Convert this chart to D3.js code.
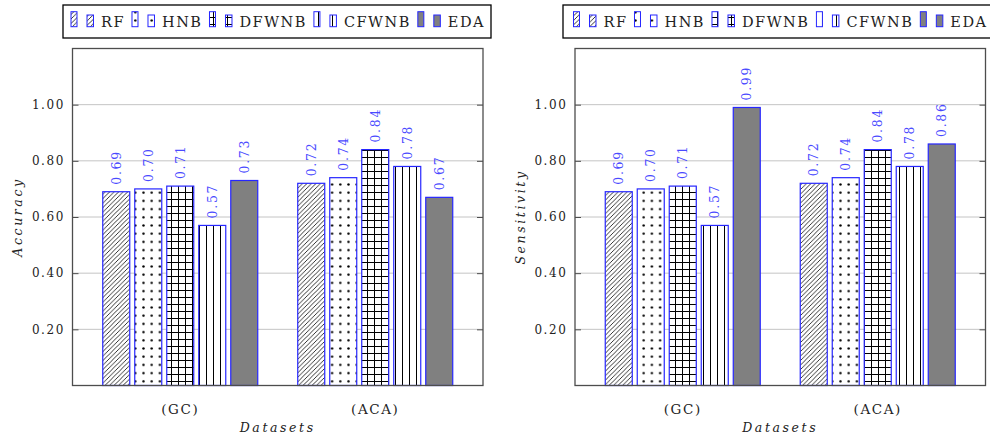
<!DOCTYPE html>
<html>
<head>
<meta charset="utf-8">
<script src="https://cdn.jsdelivr.net/npm/d3@7"></script>
<style>
  html, body { margin: 0; padding: 0; background: #fff; }
  svg { display: block; }
  text { font-family: "DejaVu Serif", serif; }
</style>
</head>
<body>
<svg id="chart" width="990" height="441"></svg>
<script>
// Datasets and methods
const categories = ["(GC)", "(ACA)"];
const methods = ["RF", "HNB", "DFWNB", "CFWNB", "EDA"];

// Accuracy per method, one value per dataset
const accuracyRF    = [0.69, 0.72];
const accuracyHNB   = [0.70, 0.74];
const accuracyDFWNB = [0.71, 0.84];
const accuracyCFWNB = [0.57, 0.78];
const accuracyEDA   = [0.73, 0.67];

// Sensitivity per method, one value per dataset
const sensitivityRF    = [0.69, 0.72];
const sensitivityHNB   = [0.70, 0.74];
const sensitivityDFWNB = [0.71, 0.84];
const sensitivityCFWNB = [0.57, 0.78];
const sensitivityEDA   = [0.99, 0.86];

const yTickValues = [0.2, 0.4, 0.6, 0.8, 1.0];
const yTickLabels = ["0.20", "0.40", "0.60", "0.80", "1.00"];

const accuracy = [accuracyRF, accuracyHNB, accuracyDFWNB, accuracyCFWNB, accuracyEDA];
const sensitivity = [sensitivityRF, sensitivityHNB, sensitivityDFWNB, sensitivityCFWNB, sensitivityEDA];

const svg = d3.select("#chart");
const defs = svg.append("defs");

// Fill patterns for each method
function makePatterns() {
  const ink = "#000";
  // north-east hatching
  let p = defs.append("pattern").attr("id", "pat-RF").attr("patternUnits", "userSpaceOnUse")
    .attr("width", 4.5).attr("height", 4.5);
  p.append("rect").attr("width", 4.5).attr("height", 4.5).attr("fill", "#fff");
  p.append("path").attr("d", "M-1,5.5 L5.5,-1 M-1,1 L1,-1 M3.5,5.5 L5.5,3.5")
    .attr("stroke", ink).attr("stroke-width", 0.8);
  // dots
  p = defs.append("pattern").attr("id", "pat-HNB").attr("patternUnits", "userSpaceOnUse")
    .attr("width", 8.2).attr("height", 8.2);
  p.append("rect").attr("width", 8.2).attr("height", 8.2).attr("fill", "#fff");
  p.append("circle").attr("cx", 4.1).attr("cy", 4.1).attr("r", 1.2).attr("fill", ink);
  // grid
  p = defs.append("pattern").attr("id", "pat-DFWNB").attr("patternUnits", "userSpaceOnUse")
    .attr("width", 7).attr("height", 7);
  p.append("rect").attr("width", 7).attr("height", 7).attr("fill", "#fff");
  p.append("path").attr("d", "M3.5,0 V7 M0,3.5 H7").attr("stroke", ink).attr("stroke-width", 1);
  // vertical lines
  p = defs.append("pattern").attr("id", "pat-CFWNB").attr("patternUnits", "userSpaceOnUse")
    .attr("width", 7).attr("height", 7);
  p.append("rect").attr("width", 7).attr("height", 7).attr("fill", "#fff");
  p.append("path").attr("d", "M3.5,0 V7").attr("stroke", ink).attr("stroke-width", 1);
}
makePatterns();

const fills = {
  RF: "url(#pat-RF)", HNB: "url(#pat-HNB)", DFWNB: "url(#pat-DFWNB)",
  CFWNB: "url(#pat-CFWNB)", EDA: "#808080"
};
const barStroke = "#2626ff";
const labelColor = "#4a4aff";

function drawPanel(offsetX, values, yTitle) {
  const left = 72.5 + offsetX, right = 483 + offsetX;
  const top = 48.5, bottom = 385.5;
  const g = svg.append("g");

  const y = d3.scaleLinear().domain([0, 1.2]).range([bottom, top]);
  const x = d3.scalePoint().domain(categories).range([left, right]).padding(0.5526);
  const inner = d3.scaleBand().domain(methods).range([-80, 80])
    .paddingInner(5 / 32).paddingOuter(5 / 64);

  // gridlines
  g.append("g").selectAll("line").data(yTickValues).join("line")
    .attr("x1", left).attr("x2", right)
    .attr("y1", d => y(d)).attr("y2", d => y(d))
    .attr("stroke", "#c4c4c4").attr("stroke-width", 1);

  // bars
  const rows = [];
  methods.forEach((m, i) => categories.forEach((c, j) => rows.push({ m, c, v: values[i][j] })));
  g.append("g").selectAll("rect").data(rows).join("rect")
    .attr("x", d => x(d.c) + inner(d.m))
    .attr("width", inner.bandwidth())
    .attr("y", d => y(d.v))
    .attr("height", d => bottom - y(d.v))
    .attr("fill", d => fills[d.m])
    .attr("stroke", barStroke).attr("stroke-width", 1.2);

  // value labels
  g.append("g").selectAll("text").data(rows).join("text")
    .attr("transform", d => `translate(${x(d.c) + inner(d.m) + inner.bandwidth() / 2},${y(d.v) - 7}) rotate(-90)`)
    .attr("dominant-baseline", "central")
    .attr("font-size", 12.5).attr("letter-spacing", 1.7)
    .attr("fill", labelColor)
    .text(d => d.v.toFixed(2));

  // frame
  g.append("rect").attr("x", left).attr("y", top)
    .attr("width", right - left).attr("height", bottom - top)
    .attr("fill", "none").attr("stroke", "#4d4d4d").attr("stroke-width", 1.3);

  // y ticks on both sides, pointing inward
  const yAxisL = d3.axisRight(y).tickValues(yTickValues).tickSize(6).tickFormat("");
  const yAxisR = d3.axisLeft(y).tickValues(yTickValues).tickSize(6).tickFormat("");
  const ga = g.append("g").attr("transform", `translate(${left},0)`).call(yAxisL);
  const gb = g.append("g").attr("transform", `translate(${right},0)`).call(yAxisR);
  [ga, gb].forEach(a => {
    a.select(".domain").remove();
    a.selectAll("line").attr("stroke", "#4d4d4d").attr("stroke-width", 1);
  });

  // y tick labels
  g.append("g").selectAll("text").data(yTickValues).join("text")
    .attr("x", left - 7.5).attr("y", d => y(d))
    .attr("dy", "0.36em").attr("text-anchor", "end")
    .attr("font-size", 12).attr("letter-spacing", 1.6)
    .attr("fill", "#222")
    .text((d, i) => yTickLabels[i]);

  // category labels
  g.append("g").selectAll("text").data(categories).join("text")
    .attr("x", d => x(d)).attr("y", 414)
    .attr("text-anchor", "middle")
    .attr("font-size", 13.5).attr("letter-spacing", 1.6)
    .attr("fill", "#222")
    .text(d => d);

  // axis titles
  g.append("text")
    .attr("x", (left + right) / 2).attr("y", 432)
    .attr("text-anchor", "middle")
    .attr("font-size", 12.5).attr("font-style", "italic").attr("letter-spacing", 2.6)
    .attr("fill", "#222")
    .text("Datasets");
  g.append("text")
    .attr("transform", `translate(${left - 55},${(top + bottom) / 2}) rotate(-90)`)
    .attr("text-anchor", "middle").attr("dominant-baseline", "central")
    .attr("font-size", 12.5).attr("font-style", "italic").attr("letter-spacing", 2.6)
    .attr("fill", "#222")
    .text(yTitle);

  // legend
  const lx = 63 + offsetX - (offsetX ? 2.5 : 0);
  const lg = svg.append("g");
  lg.append("rect").attr("x", lx).attr("y", 5).attr("width", 428).attr("height", 33)
    .attr("fill", "#fff").attr("stroke", "#000").attr("stroke-width", 1.3);
  let cx = 71 + offsetX;
  methods.forEach(m => {
    lg.append("rect").attr("x", cx).attr("y", 11.7).attr("width", 6).attr("height", 15)
      .attr("fill", fills[m]).attr("stroke", barStroke).attr("stroke-width", 1);
    lg.append("rect").attr("x", cx + 16).attr("y", 15).attr("width", 6.5).attr("height", 11.7)
      .attr("fill", fills[m]).attr("stroke", barStroke).attr("stroke-width", 1);
    const t = lg.append("text").attr("x", cx + 30).attr("y", 26.5)
      .attr("font-size", 14.5).attr("letter-spacing", 1.5).attr("fill", "#222")
      .text(m);
    const w = t.node().getComputedTextLength();
    cx += 30 + w + 7;
  });
}

drawPanel(0, accuracy, "Accuracy");
drawPanel(502.5, sensitivity, "Sensitivity");
</script>
</body>
</html>
